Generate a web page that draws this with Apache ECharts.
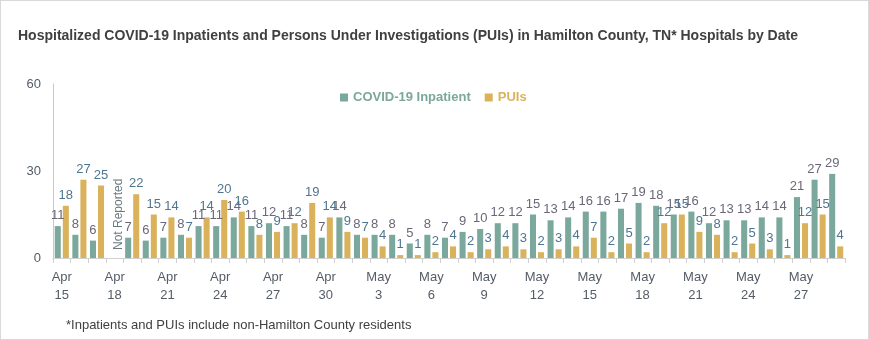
<!DOCTYPE html>
<html>
<head>
<meta charset="utf-8">
<script src="https://cdn.jsdelivr.net/npm/echarts@6/dist/echarts.min.js"></script>
<style>
html,body{margin:0;padding:0;background:#fff;}
#wrap{position:absolute;left:0;top:0;width:867px;height:338px;border:1px solid #d9d9d9;}
#chart{width:867px;height:338px;}
</style>
</head>
<body>
<div id="wrap"><div id="chart"></div></div>
<script>
const categories = [
  'Apr 15','Apr 16','Apr 17','Apr 18','Apr 19','Apr 20','Apr 21','Apr 22','Apr 23','Apr 24',
  'Apr 25','Apr 26','Apr 27','Apr 28','Apr 29','Apr 30',
  'May 1','May 2','May 3','May 4','May 5','May 6','May 7','May 8','May 9','May 10',
  'May 11','May 12','May 13','May 14','May 15','May 16','May 17','May 18','May 19','May 20',
  'May 21','May 22','May 23','May 24','May 25','May 26','May 27','May 28','May 29'
];
const inpatient = [11,8,6,null,7,6,7,8,11,11,14,11,12,11,8,7,14,8,8,8,5,8,7,9,10,12,12,15,13,14,16,16,17,19,18,15,16,12,13,13,14,14,21,27,29];
const puis = [18,27,25,null,22,15,14,7,14,20,16,8,9,12,19,14,9,7,4,1,1,2,4,2,3,4,3,2,3,4,7,2,5,2,12,15,9,8,2,5,3,1,12,15,4];
const notReportedIndex = 3;
const notReportedText = 'Not Reported';
const yTicks = [0, 30, 60];

const FONT = '"Liberation Sans", sans-serif';
const chart = echarts.init(document.getElementById('chart'), null, {renderer: 'canvas'});

const puiData = puis.map((v, i) => {
  if (i === notReportedIndex) {
    return {value: 0, label: {show: true, formatter: notReportedText, rotate: 90, position: 'top', align: 'left', verticalAlign: 'middle', distance: 8, color: '#6a7a80', fontSize: 12}};
  }
  return v;
});

chart.setOption({
  animation: false,
  textStyle: {fontFamily: FONT},
  title: {
    text: 'Hospitalized COVID-19 Inpatients and Persons Under Investigations (PUIs) in Hamilton County, TN* Hospitals by Date',
    left: 12, top: 23,
    textStyle: {fontFamily: FONT, fontSize: 14, fontWeight: 'bold', color: '#404040'}
  },
  legend: {
    data: ['COVID-19 Inpatient', 'PUIs'],
    left: 334, top: 85,
    itemWidth: 8, itemHeight: 8, itemGap: 14,
    icon: 'rect',
    textStyle: {fontFamily: FONT, fontSize: 13, fontWeight: 'bold', color: 'inherit'}
  },
  graphic: [{
    type: 'text', left: 65, top: 318,
    style: {text: '*Inpatients and PUIs include non-Hamilton County residents', font: '13px ' + FONT, fill: '#404040'}
  }],
  grid: {left: 52, right: 23, top: 83, bottom: 81, containLabel: false},
  xAxis: {
    type: 'category',
    data: categories,
    axisLine: {show: true, lineStyle: {color: '#d0d0d0'}},
    axisTick: {show: true, alignWithLabel: false, interval: 0, length: 5, lineStyle: {color: '#d0d0d0'}},
    axisLabel: {
      interval: 2, color: '#555c66', fontSize: 13, lineHeight: 18, margin: 10,
      formatter: v => v.replace(' ', '\n')
    }
  },
  yAxis: {
    type: 'value', min: 0, max: 60, interval: 30,
    axisLine: {show: true, lineStyle: {color: '#c8c8c8'}},
    axisTick: {show: false},
    splitLine: {show: false},
    axisLabel: {color: '#555c66', fontSize: 13, margin: 12, formatter: v => yTicks.includes(v) ? String(v) : ''}
  },
  series: [
    {
      name: 'COVID-19 Inpatient', type: 'bar', data: inpatient,
      itemStyle: {color: '#7ba89c'},
      barGap: '33%', barCategoryGap: '20%',
      label: {show: true, position: 'top', distance: 4, color: '#6b6678', fontSize: 13}
    },
    {
      name: 'PUIs', type: 'bar', data: puiData,
      itemStyle: {color: '#dab25c'},
      label: {show: true, position: 'top', distance: 4, color: '#4f7690', fontSize: 13}
    }
  ]
});
</script>
</body>
</html>
